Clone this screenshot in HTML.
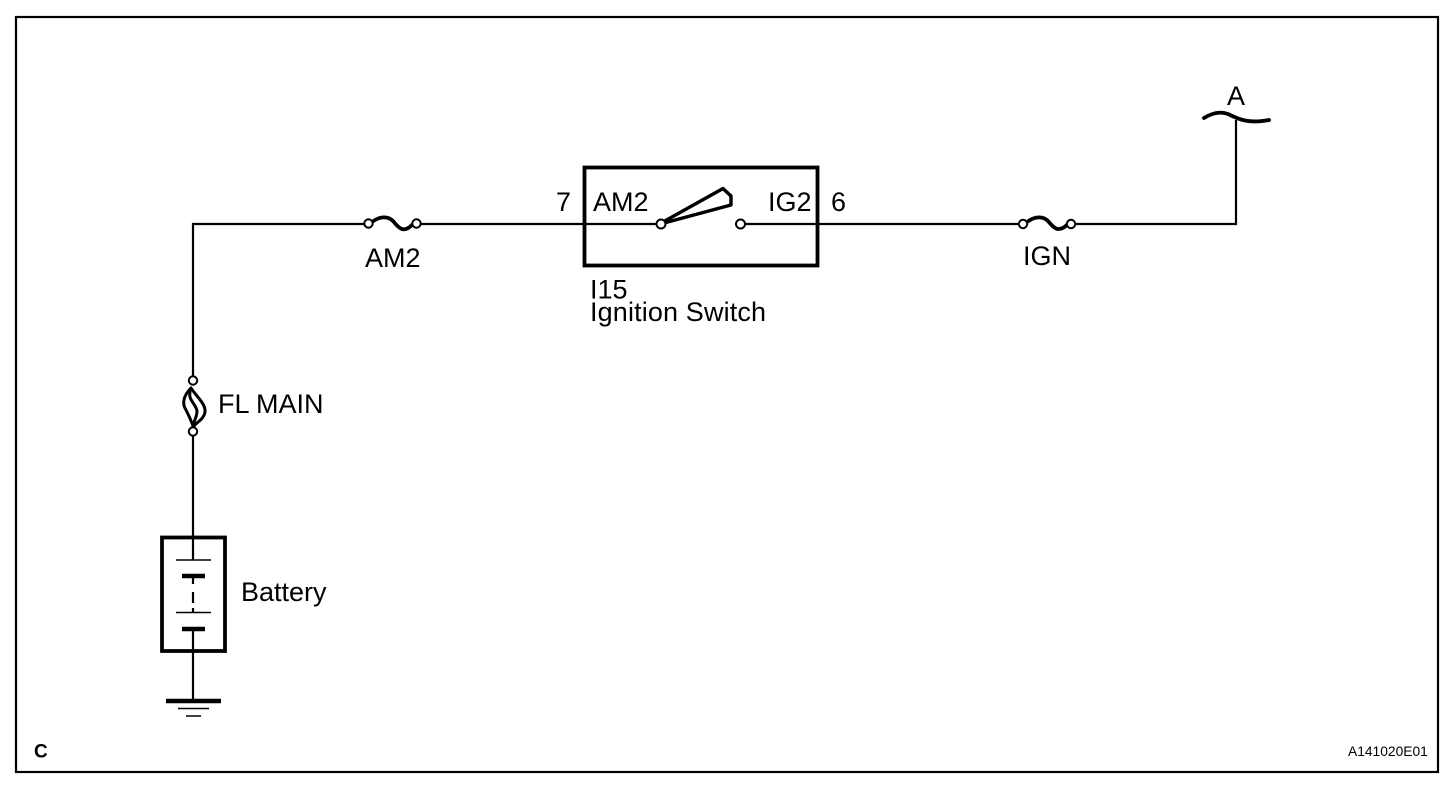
<!DOCTYPE html>
<html><head><meta charset="utf-8"><style>
html,body{margin:0;padding:0;background:#fff;width:1456px;height:790px;overflow:hidden}
svg{display:block}
text{font-family:"Liberation Sans",sans-serif;fill:#000;font-size:27px}
</style></head><body>
<svg width="1456" height="790" viewBox="0 0 1456 790" xmlns="http://www.w3.org/2000/svg">
<rect width="1456" height="790" fill="#fff"/>
<rect x="16" y="17" width="1422" height="755" fill="none" stroke="#000" stroke-width="2.2"/>
<g fill="none" stroke="#000" stroke-width="2.2">
<path d="M193 376V224H365M420 224H584M817 224H1019M1075 224H1236V120"/>
<path d="M661 224H584M745 224H817"/>
<path d="M193 436V537M193 538V560M193 629V701"/>
<path d="M193 578V584M193 592V603M193 608V613"/>
</g>
<g fill="none" stroke="#000" stroke-width="3.8">
<rect x="162" y="537.500" width="63" height="113.500"/>
<rect x="584.500" y="167.500" width="233" height="98"/>
</g>
<g stroke="#000" fill="none">
<path d="M176 560H211M176 612.500H211" stroke-width="1.6"/>
<path d="M182 576H205M182 629H205" stroke-width="4.400"/>
<path d="M166 701H221" stroke-width="4.400"/>
<path d="M178 708.500H209M186 716H201" stroke-width="1.400"/>
</g>
<g fill="none" stroke="#000" stroke-width="3.800" stroke-linecap="round">
<path d="M372 222C380 216 388 216 393 221C398 227 403 234 412 225"/>
<path d="M1027 222C1035 216 1043 216 1048 221C1053 227 1058 234 1068 224"/>
<path d="M1204 118C1212 113 1220 111 1228 114C1238 119 1248 124 1269 120"/>
<path d="M663 222L723 188.500L731 196V205L664 223" stroke-linejoin="round" stroke-width="3.400"/>
<path d="M191 388C183 396 182 404 186 410C189 416 191 420 193 426" stroke-width="3"/>
<path d="M191 388C196 396 206 404 205 412C204 419 197 422 194 426" stroke-width="3"/>
<path d="M190 392C188 400 196 404 197 411C197 417 194 421 193 425" stroke-width="3"/>
</g>
<g fill="#fff" stroke="#000" stroke-width="2">
<circle cx="193" cy="380.500" r="4.200"/>
<circle cx="193" cy="431.500" r="4.200"/>
<circle cx="368.500" cy="223.500" r="4.200"/>
<circle cx="416.500" cy="223.500" r="4.200"/>
<circle cx="1023" cy="224" r="4.200"/>
<circle cx="1071" cy="224" r="4.200"/>
<circle cx="661" cy="224" r="4.500"/>
<circle cx="740.500" cy="224" r="4.500"/>
</g>
<text x="218" y="413">FL MAIN</text>
<text x="241" y="601">Battery</text>
<text x="365" y="267">AM2</text>
<text x="1023" y="265">IGN</text>
<text x="556" y="211">7</text>
<text x="593" y="211">AM2</text>
<text x="768" y="211">IG2</text>
<text x="831" y="211">6</text>
<text x="590" y="298.500">I15</text>
<text x="590" y="321" textLength="176">Ignition Switch</text>
<text x="1227" y="105">A</text>
<text x="34" y="757.500" style="font-size:19px;font-weight:bold">C</text>
<text x="1348" y="756" style="font-size:13.800px">A141020E01</text>
</svg>
</body></html>
